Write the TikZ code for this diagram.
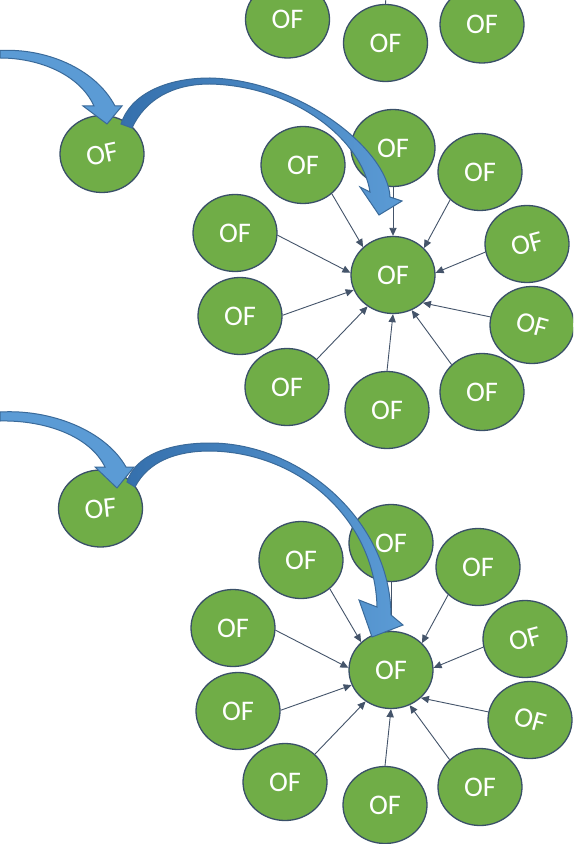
\documentclass[tikz,border=0pt]{standalone}
\usepackage{fontspec}
\setmainfont{Carlito}
\usetikzlibrary{shapes.geometric,arrows.meta}
\definecolor{ofgreen}{HTML}{70AD47}
\definecolor{ofedge}{HTML}{3A5068}
\definecolor{connc}{HTML}{44546A}
\definecolor{arrfill}{HTML}{5B9BD5}
\definecolor{arredge}{HTML}{3A6A9A}
\definecolor{arrdark}{HTML}{3570AD}
\tikzset{
  of/.style={ellipse, fill=ofgreen, draw=ofedge, line width=0.65pt,
    minimum width=42pt, minimum height=38.5pt, inner sep=0pt,
    text=white, font=\fontsize{14.2}{14}\selectfont},
  conn/.style={draw=connc, line width=0.45pt, -{Triangle[length=4pt,width=3.6pt]}},
  connline/.style={draw=connc, line width=0.45pt},
  bigarrow/.style={draw=arredge, line width=0.5pt, fill=arrfill},
  bigarrowshaded/.style={draw=arredge, line width=0.5pt, left color=arrdark, right color=arrfill},
}
\newcommand\ofcluster[3]{%
  \begin{scope}[shift={(#2,#3)}]
    \node[of] (ctr#1) at (393,275) {OF};
    \node[of] (top#1) at (393,148) {OF};
    \node[of] (upl#1) at (303,165) {OF};
    \node[of] (upr#1) at (480,172) {OF};
    \node[of] (lef#1) at (235,233) {OF};
    \node[of] (rig#1) at (527,244) {\rotatebox{15}{OF}};
    \node[of] (lel#1) at (240,316) {OF};
    \node[of] (ril#1) at (532,325) {\rotatebox{-15}{OF}};
    \node[of] (lol#1) at (287,387) {OF};
    \node[of] (bot#1) at (387,410) {OF};
    \node[of] (lor#1) at (482,392) {OF};
  \end{scope}
  \draw[conn] (upl#1.-45) -- (ctr#1.137);
  \draw[conn] (top#1.-90) -- (ctr#1.90);
  \draw[conn] (upr#1.223) -- (ctr#1.41);
  \draw[conn] (lef#1.-3) -- (ctr#1.177);
  \draw[conn] (rig#1.191) -- (ctr#1.3);
  \draw[conn] (lel#1.1) -- (ctr#1.201);
  \draw[conn] (ril#1.169) -- (ctr#1.-43);
  \draw[conn] (lol#1.43) -- (ctr#1.231);
  \draw[conn] (bot#1.90) -- (ctr#1.270);
  \draw[conn] (lor#1.138) -- (ctr#1.298);
}
\begin{document}
\begin{tikzpicture}[x=0.5pt,y=-0.5pt]
  \useasboundingbox (0,0) rectangle (573,844);
  \clip (0,0) rectangle (573,844);
  \fill[white] (0,0) rectangle (573,844);

  % partial cluster at the top
  \coordinate (ctr0) at (392,-92);
  \node[of] (lol0) at (287.5,19.5) {OF};
  \node[of] (bot0) at (385.5,43) {OF};
  \node[of] (lor0) at (482,24.5) {OF};
  \draw[connline] (bot0.90) -- (ctr0);

  % clusters
  \ofcluster{A}{0}{0}
  \ofcluster{B}{-2}{395}

  % source nodes
  \node[of] (srcA) at (102,154) {\rotatebox{12}{OF}};
  \node[of] (srcB) at (100.5,508.5) {\rotatebox{6}{OF}};

  % incoming curved arrows
  \path[bigarrow] (0,50.5) .. controls (45,48) and (95,68) .. (115,106)
    -- (122,106) -- (107,124) -- (83,106) -- (94,106)
    .. controls (80,75) and (40,58) .. (0,58) -- cycle;
  \path[bigarrow] (0,412) .. controls (50,409) and (105,430) .. (126,467)
    -- (134,467) -- (117,488) -- (95,467) -- (105,467)
    .. controls (90,436) and (45,420) .. (0,421) -- cycle;

  % outgoing curved arrows
  \path[bigarrowshaded] (121,124) .. controls (130,95) and (165,78) .. (210,78)
    .. controls (300,80) and (388,150) .. (390,197)
    -- (402,201) -- (379,215) -- (360,187) -- (370,192)
    .. controls (362,140) and (295,86) .. (210,84)
    .. controls (172,84) and (145,100) .. (132,128) -- cycle;
  \path[bigarrowshaded] (127,482) .. controls (135,455) and (170,443) .. (210,443)
    .. controls (300,443) and (390,520) .. (391,615)
    -- (403,625) -- (372,637) -- (359,600) -- (377,607)
    .. controls (375,520) and (300,452) .. (210,451)
    .. controls (175,451) and (148,462) .. (135,487) -- cycle;
\end{tikzpicture}
\end{document}
